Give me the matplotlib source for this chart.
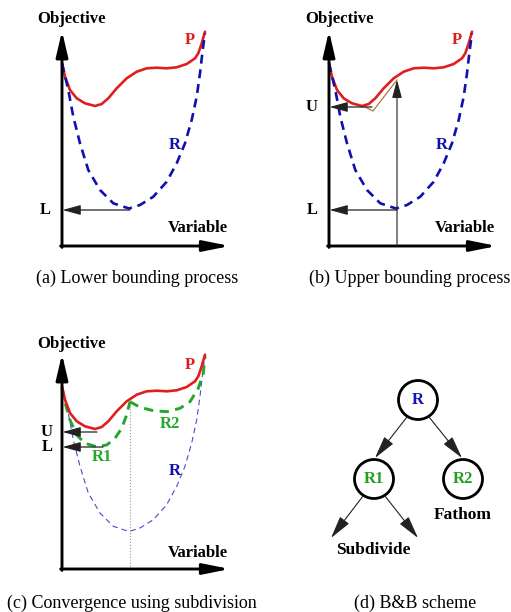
import matplotlib.pyplot as plt
from matplotlib.patches import Circle

# Branch-and-bound illustration: three objective/variable sketches + tree
W, H = 511, 612

# primal objective P (local panel units, 1 unit = 1 px)
p_x = [0, 3, 8, 14.7, 23, 33, 39.7, 46.3, 54.7, 64.7, 74.7, 84.7, 94.7,
       104.7, 114.7, 124.7, 133, 136.3, 139.7, 143]
p_y = [182.7, 169.3, 156, 147.7, 142.7, 140, 142, 147.7, 157.7, 167.7, 174.3,
       177.7, 178.3, 177.7, 178.7, 182, 187.7, 192.7, 202.7, 214.3]

# convex relaxation R over the whole domain
r_x = [0, 6.3, 11.3, 18, 26.3, 38, 51.3, 67, 78, 91.3, 104.7, 114.7, 123,
       129.7, 134.7, 138, 140.7, 143]
r_y = [182.7, 156, 129.3, 102.7, 76, 56, 42.7, 37.5, 41, 49.3, 64.3, 82.7,
       102.7, 126, 149.3, 172.7, 196, 212.7]

# relaxations of the two subregions
r1_x = [0, 3.7, 8, 14.7, 23, 34.7, 44.7, 53, 59.7, 64, 68]
r1_y = [181, 164, 149, 134, 125.7, 122.3, 124, 130.7, 140.7, 152.3, 167.3]
r2_x = [68, 78, 91.3, 104.7, 118, 128, 136.3, 141.3, 143]
r2_y = [167.3, 161.7, 158.3, 157.3, 160.7, 167.3, 180.7, 195.7, 213]

# local search path for the upper bound
ls_x = [68, 64, 44, 36]
ls_y = [166, 161, 135, 139]

x_split = 68
lower_a, lower_b, upper_b = 36, 36, 139
lower_c, upper_c = 122, 137

# tree nodes and edges (panel d)
nodes = {"R": (89, 169), "R1": (45, 90), "R2": (134, 90)}
node_colors = {"R": "#1414b4", "R1": "#22a022", "R2": "#22a022"}
edges = [((78, 152), (46, 111)), ((100, 152), (133, 111)),
         ((34, 73), (2, 31)), ((56, 73), (89, 31))]

RED = "#e01e1e"
BLUE = "#1010b0"
GREEN = "#22a82a"

plt.rcParams['font.family'] = ['Liberation Serif', 'DejaVu Serif']

fig = plt.figure(figsize=(W / 100, H / 100), dpi=100)


def panel(ox, oy):
    left, right, bottom, top = -60, 190, -45, 240
    ax = fig.add_axes([(ox + left) / W, (H - oy + bottom) / H,
                       (right - left) / W, (top - bottom) / H])
    ax.set_xlim(left, right)
    ax.set_ylim(bottom, top)
    ax.axis('off')
    return ax


def arrow(ax, start, end, lw=1.0, color='#222222', hl=1.2, hw=0.35):
    ax.annotate('', xy=end, xytext=start, annotation_clip=False,
                arrowprops=dict(arrowstyle=f'-|>,head_length={hl},head_width={hw}',
                                mutation_scale=10, lw=lw, color=color,
                                shrinkA=0, shrinkB=0))


def frame(ax, ylab_y=227, xlab_y=18):
    arrow(ax, (0, -1.4), (0, 215), lw=2.1, color='black', hl=1.55, hw=0.36)
    arrow(ax, (-1.4, 0), (168, 0), lw=2.1, color='black', hl=1.6, hw=0.32)
    ax.text(10, ylab_y, "Objective", ha='center', va='center',
            fontsize=12, fontweight='bold')
    ax.text(136, xlab_y, "Variable", ha='center', va='center',
            fontsize=12, fontweight='bold')


def bound_label(ax, x, y, s):
    ax.text(x, y, s, ha='center', va='center', fontsize=12, fontweight='bold')


# (a) lower bounding
ax = panel(62, 246)
frame(ax)
ax.plot(p_x, p_y, color=RED, lw=1.9, solid_capstyle='round',
        solid_joinstyle='round', clip_on=False)
ax.plot(r_x, r_y, color=BLUE, lw=1.9, ls=(0, (3.4, 2.2)), clip_on=False)
arrow(ax, (68, lower_a), (0.5, lower_a), lw=0.9, hl=1.1, hw=0.3)
bound_label(ax, -17, lower_a, "L")
ax.text(128, 206, "P", color=RED, ha='center', va='center',
        fontsize=12, fontweight='bold')
ax.text(113, 101, "R", color=BLUE, ha='center', va='center',
        fontsize=12, fontweight='bold')

# (b) upper bounding
ax = panel(329, 246)
frame(ax)
ax.plot(p_x, p_y, color=RED, lw=1.9, solid_capstyle='round',
        solid_joinstyle='round', clip_on=False)
ax.plot(r_x, r_y, color=BLUE, lw=1.9, ls=(0, (3.4, 2.2)), clip_on=False)
ax.plot(ls_x, ls_y, color='#b0763e', lw=0.9, clip_on=False)
arrow(ax, (x_split, 0), (x_split, 166), lw=0.8, color='#222222', hl=1.1, hw=0.3)
arrow(ax, (x_split, lower_b), (0.5, lower_b), lw=0.9, hl=1.1, hw=0.3)
arrow(ax, (43, upper_b), (0.5, upper_b), lw=0.9, hl=1.1, hw=0.3)
bound_label(ax, -17, lower_b, "L")
bound_label(ax, -17, upper_b, "U")
ax.text(128, 206, "P", color=RED, ha='center', va='center',
        fontsize=12, fontweight='bold')
ax.text(113, 101, "R", color=BLUE, ha='center', va='center',
        fontsize=12, fontweight='bold')

# (c) convergence using subdivision
ax = panel(62, 569)
frame(ax, ylab_y=225, xlab_y=16)
ax.plot(r_x, r_y, color='#4a4ad0', lw=0.8, ls=(0, (5, 3.5)), clip_on=False)
ax.plot([x_split, x_split], [0, 167], color='#999999', lw=0.8, ls=':')
ax.plot(r1_x, r1_y, color=GREEN, lw=2.1, ls=(0, (3.2, 2.2)), clip_on=False)
ax.plot(r2_x, r2_y, color=GREEN, lw=2.1, ls=(0, (3.2, 2.2)), clip_on=False)
ax.plot(p_x, p_y, color=RED, lw=1.9, solid_capstyle='round',
        solid_joinstyle='round', clip_on=False)
arrow(ax, (35, upper_c), (0.5, upper_c), lw=0.9, hl=1.1, hw=0.3)
arrow(ax, (41, lower_c), (0.5, lower_c), lw=0.9, hl=1.1, hw=0.3)
bound_label(ax, -15, upper_c, "U")
bound_label(ax, -15, lower_c, "L")
ax.text(128, 204, "P", color=RED, ha='center', va='center',
        fontsize=12, fontweight='bold')
ax.text(113, 98, "R", color=BLUE, ha='center', va='center',
        fontsize=12, fontweight='bold')
ax.text(40, 112, "R1", color=GREEN, ha='center', va='center',
        fontsize=12, fontweight='bold')
ax.text(108, 145, "R2", color=GREEN, ha='center', va='center',
        fontsize=12, fontweight='bold')

# (d) B&B tree
ax = panel(329, 569)
ax.set_aspect('equal')
for name, (cx, cy) in nodes.items():
    ax.add_patch(Circle((cx, cy), 19.5, fill=False, lw=2.0, ec='black',
                        clip_on=False))
    ax.text(cx, cy, name, color=node_colors[name], ha='center', va='center',
            fontsize=12, fontweight='bold')
for start, end in edges:
    arrow(ax, start, end, lw=0.8, color='#222222', hl=1.4, hw=0.35)
ax.text(44, 19, "Subdivide", ha='center', va='center', fontsize=12.5,
        fontweight='bold')
ax.text(134, 54, "Fathom", ha='center', va='center', fontsize=12.5,
        fontweight='bold')

# captions
captions = ["(a) Lower bounding process", "(b) Upper bounding process",
            "(c) Convergence using subdivision", "(d) B&B scheme"]
cap_pos = [(137, 278), (410, 278), (132, 603), (415, 603)]
for text, (cx, cy) in zip(captions, cap_pos):
    fig.text(cx / W, 1 - cy / H, text, ha='center', va='center', fontsize=13)

fig.savefig("out.png", dpi=100)
